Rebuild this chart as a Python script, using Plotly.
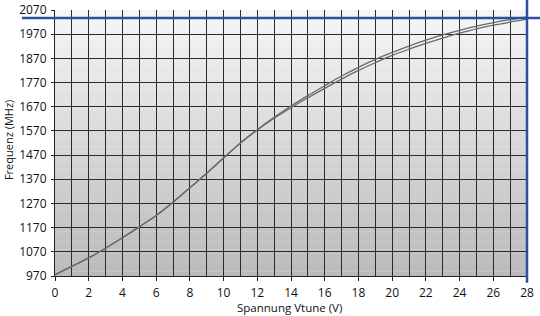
import plotly.graph_objects as go

# Data
voltage = list(range(0, 29))
freq_upper = [975, 1010, 1045, 1085, 1128, 1173, 1220, 1275, 1335, 1395,
              1458, 1520, 1575, 1626, 1673, 1716, 1757, 1797, 1833, 1866,
              1895, 1921, 1945, 1967, 1986, 2003, 2018, 2030, 2041]
freq_lower = [975, 1010, 1045, 1085, 1128, 1173, 1220, 1275, 1335, 1395,
              1458, 1520, 1574, 1622, 1666, 1707, 1746, 1784, 1820, 1852,
              1882, 1908, 1932, 1954, 1974, 1992, 2007, 2020, 2032]
y_ticks = [970, 1070, 1170, 1270, 1370, 1470, 1570, 1670, 1770, 1870, 1970, 2070]
x_ticks = list(range(0, 29, 2))
marker_freq = 2037
x_title = "Spannung Vtune (V)"
y_title = "Frequenz (MHz)"

fig = go.Figure()

for yy in (freq_upper, freq_lower):
    fig.add_trace(go.Scatter(x=voltage, y=yy, mode="lines", line_shape="spline",
                             line=dict(color="#6a6a6a", width=1.3), showlegend=False,
                             hoverinfo="skip"))

# Gradient background as stacked bands below gridlines
shapes = []
n = 60
top = (246, 246, 246)
bot = (186, 186, 186)
for i in range(n):
    t = (i + 0.5) / n
    c = tuple(int(round(top[k] + (bot[k] - top[k]) * t)) for k in range(3))
    shapes.append(dict(type="rect", xref="paper", yref="paper",
                       x0=0, x1=1, y0=1 - (i + 1) / n, y1=1 - i / n + 0.001,
                       fillcolor="rgb(%d,%d,%d)" % c, line=dict(width=0), layer="below"))

blue = "#2c4f9e"
shapes.append(dict(type="line", xref="paper", yref="y", x0=-0.07, x1=1.03,
                   y0=marker_freq, y1=marker_freq, line=dict(color=blue, width=2.5), layer="above"))
shapes.append(dict(type="line", xref="paper", yref="paper", x0=1, x1=1,
                   y0=-0.025, y1=1.04, line=dict(color=blue, width=2.5), layer="above"))

annotations = [
    dict(text=x_title, xref="paper", yref="paper", x=0.497, y=-0.118,
         xanchor="center", yanchor="middle", showarrow=False,
         font=dict(size=11.5, color="#111")),
    dict(text=y_title, xref="paper", yref="paper", x=-0.098, y=0.51,
         xanchor="center", yanchor="middle", textangle=-90, showarrow=False,
         font=dict(size=11, color="#111")),
]

fig.update_layout(
    width=540, height=316,
    margin=dict(l=55, r=13, t=10, b=40),
    paper_bgcolor="white", plot_bgcolor="white",
    shapes=shapes, annotations=annotations,
    font=dict(family="Open Sans", size=12, color="#111"),
    xaxis=dict(range=[0, 28], tickvals=x_ticks, ticks="outside", ticklen=4,
               tickcolor="#222", showgrid=True, gridcolor="#2a2a2a", gridwidth=1,
               minor=dict(dtick=1, showgrid=True, gridcolor="#2a2a2a", gridwidth=1),
               showline=True, linecolor="#222", zeroline=False, ticklabelstandoff=2,
               automargin=False),
    yaxis=dict(range=[970, 2070], tickvals=y_ticks, ticks="outside", ticklen=3,
               tickcolor="#222", showgrid=True, gridcolor="#2a2a2a", gridwidth=1,
               showline=True, linecolor="#222", zeroline=False, ticklabelstandoff=2,
               automargin=False),
)

fig.write_html("out.html")
